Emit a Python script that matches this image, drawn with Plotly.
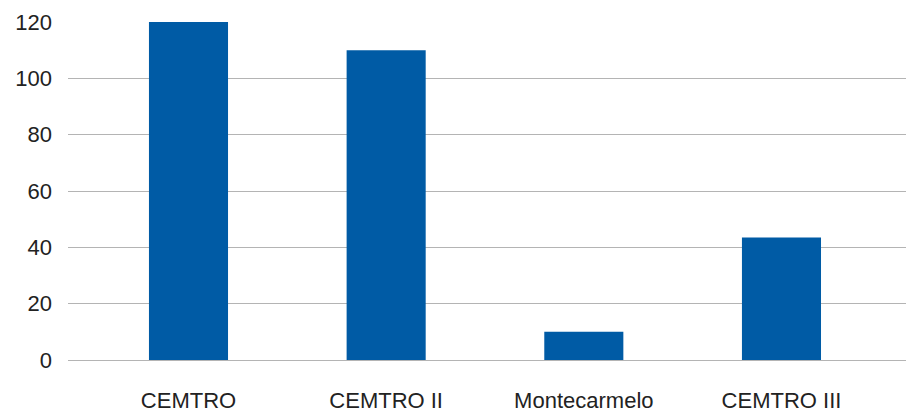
import plotly.graph_objects as go

categories = ["CEMTRO", "CEMTRO II", "Montecarmelo", "CEMTRO III"]
values = [120, 110, 10, 43.5]
y_ticks = [0, 20, 40, 60, 80, 100, 120]

fig = go.Figure(
    go.Bar(
        x=categories,
        y=values,
        marker=dict(color="#005BA5", line=dict(width=0)),
        width=0.4,
        hoverinfo="x+y",
    )
)

font = dict(family="Liberation Sans, Arial, sans-serif", size=22, color="#222222")

fig.update_layout(
    width=906,
    height=412,
    margin=dict(l=68, r=0, t=22, b=52),
    paper_bgcolor="white",
    plot_bgcolor="white",
    showlegend=False,
    font=font,
    bargap=0.6,
)
fig.update_xaxes(
    type="category",
    range=[-0.6096, 3.630],
    showgrid=False,
    showline=False,
    zeroline=False,
    ticks="",
    ticklabelstandoff=25,
    tickfont=font,
)
fig.update_yaxes(
    range=[0, 120],
    tickvals=y_ticks,
    showgrid=True,
    gridcolor="#b4b4b4",
    gridwidth=1.3,
    zeroline=True,
    zerolinecolor="#b4b4b4",
    zerolinewidth=1.3,
    showline=False,
    ticks="",
    ticklabelstandoff=15,
    tickfont=font,
)

fig.write_html("out.html")
